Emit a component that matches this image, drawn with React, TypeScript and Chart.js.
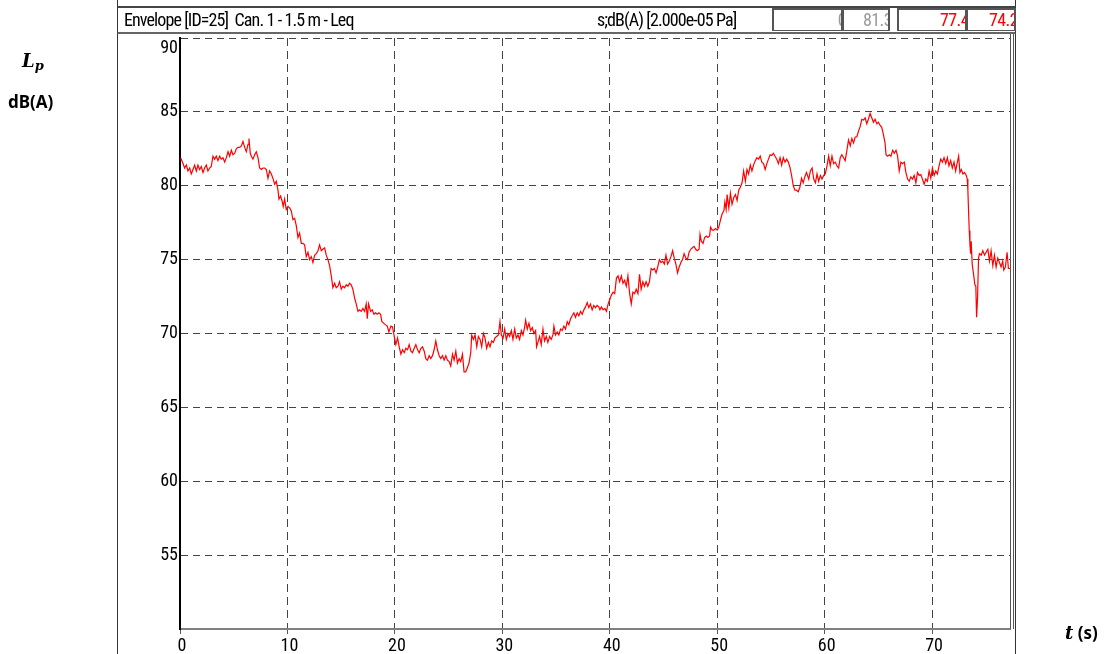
import React, { useEffect, useRef } from "react";
import { Chart, registerables } from "chart.js";

Chart.register(...registerables);

// ---- axis settings ----
const X_MIN = 0;
const X_MAX = 77.25;
const X_STEP = 10;
const Y_MIN = 50;
const Y_MAX = 90;
const Y_STEP = 5;

// ---- header texts ----
const HEADER_TITLE = "Envelope [ID=25]  Can. 1 - 1.5 m - Leq";
const HEADER_UNIT = "s;dB(A) [2.000e-05 Pa]";
const HEADER_VALUES = ["0", "81.3", "77.4", "74.2"];
const HEADER_VALUE_COLORS = ["#9a9a9a", "#9a9a9a", "#ff0000", "#ff0000"];

// ---- axis titles ----
const Y_TITLE_SYMBOL = "L";
const Y_TITLE_SUB = "p";
const Y_TITLE_UNIT = "dB(A)";
const X_TITLE_SYMBOL = "t";
const X_TITLE_UNIT = "(s)";

// ---- series: [time (s), level dB(A)] ----
const SEG_0_20: [number, number][] = [
  [0.06, 81.9], [0.28, 81.5], [0.43, 81.2], [0.59, 81.4], [0.74, 81.0], [0.9, 81.2], [1.05, 80.8], [1.21, 81.1],
  [1.36, 81.4], [1.52, 81.0], [1.67, 81.4], [1.83, 81.1], [1.98, 81.3], [2.14, 80.9], [2.29, 81.2], [2.45, 81.4],
  [2.6, 81.0], [2.76, 81.2], [2.91, 81.3], [3.07, 82.0], [3.22, 81.8], [3.38, 82.0], [3.53, 81.7], [3.69, 82.0],
  [3.84, 81.8], [4.0, 81.9], [4.16, 81.6], [4.31, 81.9], [4.47, 82.3], [4.62, 82.0], [4.78, 82.4], [4.93, 82.1],
  [5.09, 82.2], [5.24, 82.5], [5.4, 82.6], [5.55, 82.6], [5.71, 82.7], [5.86, 83.0], [6.02, 82.6], [6.17, 82.3],
  [6.33, 82.8], [6.42, 83.2], [6.54, 82.2], [6.64, 82.0], [6.79, 81.8], [6.95, 82.1], [7.1, 82.3], [7.26, 81.9],
  [7.41, 81.2], [7.57, 81.1], [7.72, 81.2], [7.88, 81.2], [8.03, 81.1], [8.19, 80.5], [8.34, 81.0], [8.5, 80.8],
  [8.65, 80.5], [8.81, 80.1], [8.96, 80.3], [9.12, 79.7], [9.21, 79.1], [9.36, 79.3], [9.49, 79.0], [9.61, 78.6],
  [9.74, 79.1], [9.89, 78.4], [10.05, 78.6], [10.2, 78.5], [10.36, 78.3], [10.51, 77.7], [10.67, 77.8], [10.82, 77.3],
  [10.98, 76.5], [11.13, 76.8], [11.29, 76.1], [11.44, 76.1], [11.6, 76.0], [11.75, 75.2], [11.91, 75.5], [12.06, 75.0],
  [12.22, 75.2], [12.37, 74.8], [12.53, 75.3], [12.68, 75.4], [12.84, 75.6], [12.99, 76.0], [13.15, 75.6], [13.3, 75.7],
  [13.46, 75.8], [13.61, 75.3], [13.77, 75.0], [13.92, 74.6], [14.08, 73.9], [14.23, 73.1], [14.39, 73.4], [14.54, 73.1],
  [14.7, 73.2], [14.85, 73.5], [15.01, 73.0], [15.16, 73.2], [15.32, 73.1], [15.47, 73.3], [15.63, 73.2], [15.78, 73.4],
  [15.94, 73.3], [16.09, 73.0], [16.25, 72.4], [16.4, 72.0], [16.56, 71.5], [16.71, 71.6], [16.87, 71.5], [17.02, 71.7],
  [17.18, 71.5], [17.33, 72.0], [17.43, 71.0], [17.55, 72.0], [17.74, 71.5], [17.89, 71.6], [18.05, 71.3], [18.2, 71.4],
  [18.36, 71.3], [18.51, 71.4], [18.67, 71.3], [18.79, 70.8], [18.95, 70.7], [19.1, 70.6], [19.29, 70.5], [19.44, 70.1],
];

const SEG_20_39: [number, number][] = [
  [19.63, 70.5], [19.78, 70.45], [19.94, 69.8], [20.09, 69.25], [20.25, 69.7], [20.4, 69.1], [20.56, 68.6], [20.71, 68.9],
  [20.87, 68.7], [21.02, 69.0], [21.18, 68.9], [21.33, 69.25], [21.49, 68.8], [21.64, 68.7], [21.8, 69.0], [21.95, 69.25],
  [22.11, 68.9], [22.26, 68.7], [22.42, 69.0], [22.57, 69.1], [22.73, 68.8], [22.88, 68.3], [23.03, 68.2], [23.19, 68.5],
  [23.34, 68.3], [23.5, 68.5], [23.65, 68.9], [23.81, 69.5], [23.96, 68.9], [24.12, 68.5], [24.27, 68.3], [24.43, 68.5],
  [24.58, 68.2], [24.74, 68.5], [24.89, 68.2], [25.05, 68.1], [25.2, 67.8], [25.36, 68.6], [25.51, 68.2], [25.67, 68.8],
  [25.82, 68.0], [25.98, 68.3], [26.13, 68.1], [26.29, 68.6], [26.44, 67.4], [26.59, 67.4], [26.75, 67.7], [26.9, 68.0],
  [27.06, 68.7], [27.15, 69.9], [27.31, 69.6], [27.46, 69.9], [27.62, 69.1], [27.77, 69.8], [27.93, 69.6], [28.08, 69.1],
  [28.24, 70.0], [28.39, 69.7], [28.54, 69.0], [28.7, 69.4], [28.85, 69.1], [29.01, 69.5], [29.16, 69.4], [29.32, 69.7],
  [29.47, 69.8], [29.63, 69.9], [29.78, 70.8], [29.91, 69.9], [30.07, 69.7], [30.22, 70.3], [30.37, 69.6], [30.53, 70.0],
  [30.68, 69.8], [30.84, 70.2], [30.99, 69.6], [31.15, 70.3], [31.3, 69.7], [31.46, 69.9], [31.61, 69.6], [31.77, 70.2],
  [31.92, 69.9], [32.07, 70.4], [32.17, 70.9], [32.32, 70.3], [32.48, 70.7], [32.63, 70.2], [32.79, 70.4], [32.94, 70.0],
  [33.1, 70.2], [33.19, 69.1], [33.31, 69.4], [33.47, 69.8], [33.62, 69.25], [33.78, 70.3], [33.93, 69.5], [34.09, 69.8],
  [34.24, 69.4], [34.4, 69.8], [34.55, 69.6], [34.71, 69.9], [34.8, 70.5], [34.95, 69.9], [35.11, 70.1], [35.26, 69.9],
  [35.42, 70.3], [35.57, 70.2], [35.73, 70.5], [35.88, 70.3], [36.04, 70.8], [36.19, 70.6], [36.35, 71.0], [36.5, 71.2],
  [36.66, 71.4], [36.81, 71.1], [36.97, 71.4], [37.12, 71.2], [37.28, 71.5], [37.43, 71.3], [37.59, 71.6], [37.74, 71.8],
  [37.9, 72.1], [38.05, 71.75], [38.2, 72.0], [38.36, 71.6], [38.51, 71.9], [38.67, 71.75], [38.82, 71.9], [38.98, 71.8],
];

const SEG_39_58: [number, number][] = [
  [39.08, 71.6], [39.23, 71.8], [39.38, 71.6], [39.54, 71.7], [39.69, 71.5], [39.85, 72.0], [40.0, 72.3], [40.15, 72.6],
  [40.31, 72.8], [40.46, 72.7], [40.62, 73.75], [40.77, 73.9], [40.92, 73.5], [41.08, 73.9], [41.23, 73.4], [41.38, 73.6],
  [41.54, 73.2], [41.69, 73.9], [41.85, 72.7], [42.0, 72.0], [42.15, 72.8], [42.31, 72.7], [42.46, 73.0], [42.62, 72.7],
  [42.77, 74.0], [42.92, 73.0], [43.08, 73.5], [43.23, 73.2], [43.38, 73.5], [43.54, 73.2], [43.69, 73.5], [43.85, 74.4],
  [44.0, 74.3], [44.15, 74.4], [44.31, 74.1], [44.46, 74.5], [44.62, 75.0], [44.77, 74.8], [44.92, 74.9], [45.08, 74.7],
  [45.23, 75.3], [45.38, 74.7], [45.54, 74.9], [45.69, 75.2], [45.85, 75.6], [46.0, 75.1], [46.15, 74.7], [46.31, 74.1],
  [46.46, 74.5], [46.62, 74.8], [46.77, 75.0], [46.92, 75.4], [47.08, 75.1], [47.23, 75.0], [47.38, 75.5], [47.54, 75.7],
  [47.69, 75.8], [47.85, 75.9], [48.0, 75.7], [48.15, 75.6], [48.31, 75.7], [48.4, 76.7], [48.52, 76.25], [48.68, 76.1],
  [48.83, 76.5], [48.98, 76.6], [49.14, 76.5], [49.29, 76.6], [49.38, 77.2], [49.54, 77.0], [49.69, 77.0], [49.85, 77.1],
  [50.0, 77.0], [50.15, 77.2], [50.31, 77.7], [50.46, 78.1], [50.62, 78.3], [50.71, 78.9], [50.83, 78.4], [50.92, 79.4],
  [51.08, 78.5], [51.23, 79.5], [51.38, 78.75], [51.54, 79.2], [51.69, 79.4], [51.85, 79.0], [52.0, 79.7], [52.15, 79.9],
  [52.31, 80.2], [52.46, 81.0], [52.62, 80.3], [52.77, 81.1], [52.92, 80.8], [53.08, 81.4], [53.23, 81.0], [53.38, 81.4],
  [53.54, 81.7], [53.69, 81.9], [53.85, 81.8], [54.0, 82.0], [54.15, 81.6], [54.31, 81.5], [54.46, 81.1], [54.62, 81.5],
  [54.77, 81.8], [54.92, 82.1], [55.08, 82.05], [55.23, 82.2], [55.38, 82.0], [55.54, 81.8], [55.69, 81.5], [55.85, 81.9],
  [56.0, 81.4], [56.15, 81.9], [56.31, 81.6], [56.46, 81.8], [56.62, 81.6], [56.77, 81.25], [56.92, 80.7], [57.08, 80.0],
  [57.23, 79.7], [57.38, 79.7], [57.54, 79.6], [57.69, 79.9], [57.85, 80.5], [58.0, 80.2], [58.15, 80.6], [58.31, 80.9],
];

const SEG_58_77: [number, number][] = [
  [58.52, 80.45], [58.67, 81.0], [58.83, 81.2], [58.98, 80.45], [59.14, 80.2], [59.29, 80.8], [59.44, 80.3], [59.6, 80.7],
  [59.75, 80.45], [59.91, 80.7], [60.06, 80.8], [60.22, 81.35], [60.37, 82.0], [60.52, 81.35], [60.68, 82.0], [60.83, 81.5],
  [60.99, 81.6], [61.14, 81.35], [61.3, 81.2], [61.45, 81.9], [61.6, 82.1], [61.76, 81.9], [61.91, 81.7], [62.07, 82.4],
  [62.22, 83.1], [62.38, 82.7], [62.53, 83.2], [62.69, 82.9], [62.84, 83.3], [62.99, 83.3], [63.15, 83.7], [63.3, 84.0],
  [63.46, 84.5], [63.61, 84.45], [63.77, 84.6], [63.92, 84.2], [64.07, 84.5], [64.23, 84.9], [64.38, 84.6], [64.54, 84.3],
  [64.69, 84.5], [64.85, 84.2], [65.0, 84.3], [65.15, 84.1], [65.31, 83.95], [65.46, 83.5], [65.62, 82.9], [65.71, 82.1],
  [65.86, 82.0], [66.02, 82.1], [66.17, 82.0], [66.33, 82.4], [66.48, 82.2], [66.64, 82.4], [66.79, 82.0], [66.94, 81.0],
  [67.1, 81.6], [67.25, 81.5], [67.41, 81.6], [67.56, 80.9], [67.72, 80.45], [67.87, 80.3], [68.02, 80.6], [68.18, 80.45],
  [68.33, 80.7], [68.49, 80.2], [68.64, 80.9], [68.8, 80.7], [68.95, 80.75], [69.1, 80.45], [69.26, 80.1], [69.41, 80.45],
  [69.57, 80.3], [69.72, 81.0], [69.88, 80.5], [70.03, 81.2], [70.19, 80.7], [70.34, 81.0], [70.49, 80.8], [70.65, 81.35],
  [70.8, 81.8], [70.96, 81.6], [71.11, 81.9], [71.27, 81.5], [71.42, 81.9], [71.57, 81.35], [71.73, 81.7], [71.88, 81.2],
  [72.04, 81.6], [72.19, 81.0], [72.35, 81.6], [72.47, 82.0], [72.59, 80.9], [72.72, 81.1], [72.87, 80.8], [73.02, 80.9],
  [73.18, 80.7], [73.27, 80.45], [73.33, 79.7], [73.4, 78.1], [73.46, 76.95], [73.52, 76.05], [73.58, 75.4], [73.64, 76.25],
  [73.73, 74.7], [73.86, 74.0], [73.98, 73.3], [74.07, 73.2], [74.14, 71.1], [74.23, 72.4], [74.32, 75.1], [74.41, 75.4],
  [74.57, 75.3], [74.72, 75.6], [74.88, 75.3], [75.03, 75.5], [75.19, 75.7], [75.34, 74.9], [75.49, 75.6], [75.65, 74.6],
  [75.8, 75.3], [75.96, 74.5], [76.11, 75.1], [76.27, 74.8], [76.42, 74.5], [76.57, 74.9], [76.67, 74.3], [76.82, 74.5],
  [76.98, 75.5], [77.1, 74.4], [77.25, 74.4],
];

const NARROW = "'Roboto Condensed', 'Liberation Sans', Arial, sans-serif";

const framePlugin = {
  id: "framePlugin",
  afterDraw(chart: any) {
    const { ctx, chartArea: a } = chart;
    ctx.save();
    ctx.strokeStyle = "#555";
    ctx.lineWidth = 1;
    ctx.beginPath();
    ctx.moveTo(Math.round(a.right) + 0.5, 34);
    ctx.lineTo(Math.round(a.right) + 0.5, a.bottom);
    ctx.moveTo(Math.round(a.right) + 3.5, 34);
    ctx.lineTo(Math.round(a.right) + 3.5, a.bottom);
    ctx.stroke();
    ctx.restore();
  },
};

function ChartCanvas() {
  const ref = useRef<HTMLCanvasElement | null>(null);
  useEffect(() => {
    if (!ref.current) return;
    const points = [...SEG_0_20, ...SEG_20_39, ...SEG_39_58, ...SEG_58_77].map(([x, y]) => ({ x, y }));
    const chart = new Chart(ref.current, {
      type: "line",
      data: {
        datasets: [
          {
            data: points,
            borderColor: "#ff0000",
            borderWidth: 1.2,
            pointRadius: 0,
            tension: 0,
            fill: false,
          },
        ],
      },
      options: {
        animation: false,
        responsive: false,
        events: [],
        layout: { padding: { top: 38, right: 95, bottom: 0, left: 0 } },
        plugins: { legend: { display: false }, tooltip: { enabled: false } },
        scales: {
          x: {
            type: "linear",
            min: X_MIN,
            max: X_MAX,
            afterFit: (s: any) => {
              s.height = 25;
            },
            ticks: {
              stepSize: X_STEP,
              includeBounds: false,
              color: "#000",
              font: { family: NARROW, size: 18 },
              padding: 2,
              labelOffset: 2,
              maxRotation: 0,
            },
            grid: {
              color: "#444",
              lineWidth: 1,
              drawTicks: true,
              tickLength: 5,
              tickColor: "#555",
              tickBorderDash: [],
            },
            border: { display: true, color: "#808080", width: 2, dash: [8, 5] },
          },
          y: {
            type: "linear",
            min: Y_MIN,
            max: Y_MAX,
            afterFit: (s: any) => {
              s.width = 180;
            },
            ticks: {
              stepSize: Y_STEP,
              color: "#000",
              font: { family: NARROW, size: 18 },
              padding: 2,
              callback: (v: any) => {
                if (v === Y_MIN) return "";
                if (v === Y_MAX) return ["", String(v)];
                return String(v);
              },
            },
            grid: { color: "#444", lineWidth: 1, drawTicks: false },
            border: { display: true, color: "#000", width: 2, dash: [7, 5] },
          },
        },
      },
      plugins: [framePlugin],
    } as any);
    return () => chart.destroy();
  }, []);
  return (
    <canvas
      ref={ref}
      width={1105}
      height={654}
      style={{ position: "absolute", left: 0, top: 0, width: 1105, height: 654 }}
    />
  );
}

const headerText: React.CSSProperties = {
  position: "absolute",
  top: 9,
  fontFamily: NARROW,
  fontSize: 18,
  letterSpacing: -0.9,
  lineHeight: "21px",
  color: "#000",
  whiteSpace: "pre",
};

const boxBase: React.CSSProperties = {
  position: "absolute",
  top: 8,
  height: 23,
  border: "2px solid #555",
  borderBottomWidth: 1,
  overflow: "hidden",
  boxSizing: "border-box",
  fontFamily: NARROW,
  fontSize: 18,
  letterSpacing: -0.6,
  lineHeight: "20px",
  whiteSpace: "nowrap",
};

const VALUE_BOXES = [
  { left: 772, width: 71, pad: -5 },
  { left: 842, width: 48, pad: -4 },
  { left: 897, width: 70, pad: -4 },
  { left: 966, width: 50, pad: -4 },
];

export default function App() {
  return (
    <div style={{ position: "absolute", left: 0, top: 0, width: 1105, height: 654, background: "#fff", overflow: "hidden" }}>
      <ChartCanvas />
      {/* outer vertical frame lines */}
      <div style={{ position: "absolute", left: 117, top: 0, width: 1, height: 654, background: "#333" }} />
      <div style={{ position: "absolute", left: 1015, top: 0, width: 1, height: 654, background: "#333" }} />
      {/* header bar */}
      <div
        style={{
          position: "absolute",
          left: 117,
          top: 6,
          width: 899,
          height: 28,
          boxSizing: "border-box",
          borderTop: "2px solid #444",
          borderBottom: "2px solid #666",
          borderLeft: "1px solid #333",
          borderRight: "1px solid #333",
        }}
      />
      <div style={{ ...headerText, left: 124 }}>{HEADER_TITLE}</div>
      <div style={{ ...headerText, left: 597 }}>{HEADER_UNIT}</div>
      {VALUE_BOXES.map((b, i) => (
        <div key={i} style={{ ...boxBase, left: b.left, width: b.width, color: HEADER_VALUE_COLORS[i] }}>
          <span style={{ position: "absolute", right: b.pad, top: 0 }}>{HEADER_VALUES[i]}</span>
        </div>
      ))}
      {/* y axis title */}
      <div
        style={{
          position: "absolute",
          left: 22,
          top: 50,
          fontFamily: "'DejaVu Serif', 'Liberation Serif', serif",
          fontWeight: "bold",
          fontStyle: "italic",
          fontSize: 18,
          color: "#000",
          whiteSpace: "nowrap",
        }}
      >
        {Y_TITLE_SYMBOL}
        <sub style={{ fontSize: 13, verticalAlign: "-3px" }}>{Y_TITLE_SUB}</sub>
      </div>
      <div
        style={{
          position: "absolute",
          left: 8,
          top: 90,
          fontFamily: "'Noto Sans', 'Open Sans', sans-serif",
          fontWeight: "bold",
          fontSize: 17,
          color: "#000",
          whiteSpace: "nowrap",
        }}
      >
        {Y_TITLE_UNIT}
      </div>
      {/* x axis title */}
      <div style={{ position: "absolute", left: 1065, top: 621, fontSize: 18, fontWeight: "bold", color: "#000", whiteSpace: "nowrap" }}>
        <span style={{ fontFamily: "'DejaVu Serif', 'Liberation Serif', serif", fontStyle: "italic" }}>{X_TITLE_SYMBOL}</span>
        <span style={{ fontFamily: "'Noto Sans', 'Open Sans', sans-serif", fontSize: 17 }}> {X_TITLE_UNIT}</span>
      </div>
    </div>
  );
}
